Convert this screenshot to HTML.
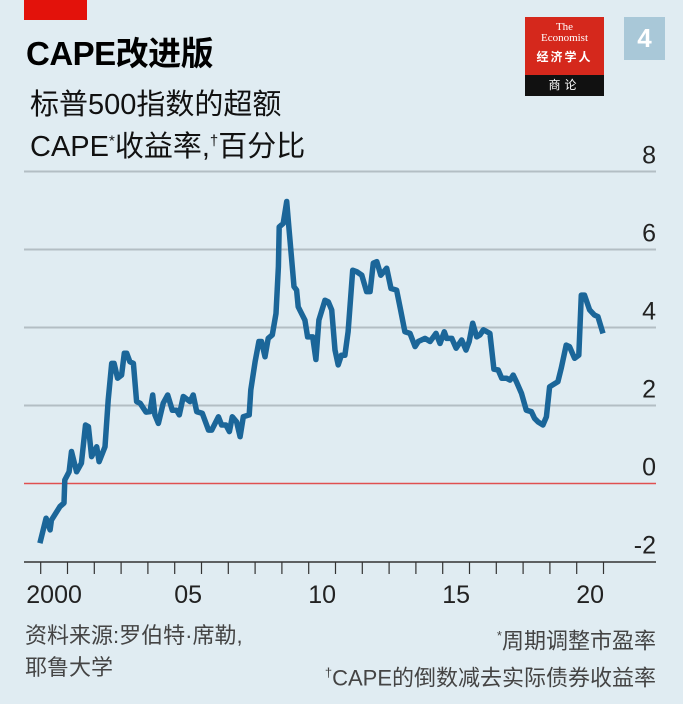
<!DOCTYPE html>
<html><head><meta charset="utf-8">
<style>
body{margin:0;width:683px;height:704px;background:#e0ecf2;overflow:hidden;font-family:"Liberation Sans","Noto Sans CJK SC",sans-serif;position:relative}
.a{position:absolute;white-space:nowrap}
</style></head><body>
<div class="a" style="left:24px;top:0;width:63px;height:20px;background:#e3120b"></div>
<div class="a" style="left:26px;top:27px;font-size:33px;font-weight:bold;color:#000;letter-spacing:-0.5px">CAPE改进版</div>
<div class="a" style="left:30px;top:81px;font-size:29px;color:#111">标普500指数的超额</div>
<div class="a" style="left:30px;top:123px;font-size:29px;color:#111">CAPE<sup style="font-size:15px">*</sup>收益率,<sup style="font-size:15px">†</sup>百分比</div>
<div class="a" style="left:525px;top:17px;width:79px;height:79px;background:#d5281c;text-align:center;color:#fff">
 <div style="font-family:'Liberation Serif',serif;font-size:11px;line-height:11px;margin-top:5px">The<br>Economist</div>
 <div style="font-size:12px;margin-top:4px;font-weight:bold;letter-spacing:2px">经济学人</div>
 <div style="position:absolute;left:0;top:58px;width:79px;height:21px;background:#111;font-size:12px;line-height:21px;letter-spacing:4px">商论</div>
</div>
<div class="a" style="left:624px;top:17px;width:41px;height:43px;background:#a9c8d8;color:#fff;font-weight:bold;font-size:26px;text-align:center;line-height:43px">4</div>
<svg class="a" style="left:0;top:0" width="683" height="704">
<g id="grid"></g><g id="axis"></g><path id="line" fill="none" stroke="#1b6699" stroke-width="5.5" stroke-linejoin="round"/>
</svg>
<div class="a" style="left:25px;top:620px;font-size:22px;color:#444;line-height:32px">资料来源:罗伯特·席勒,<br>耶鲁大学</div>
<div class="a" style="right:27px;top:620px;font-size:22px;color:#444;line-height:32px;text-align:right"><sup style="font-size:13px">*</sup>周期调整市盈率<br><sup style="font-size:13px">†</sup>CAPE的倒数减去实际债券收益率</div>
<script>
const yTicks=[-2,0,2,4,6,8];
const xLabels=["2000","05","10","15","20"];
const xLabelYears=[2000,2005,2010,2015,2020];
const dates=[1999.97,2000.2,2000.35,2000.4,2000.72,2000.87,2000.9,2001.06,2001.15,2001.34,2001.52,2001.67,2001.78,2001.9,2002.09,2002.18,2002.4,2002.52,2002.65,2002.74,2002.87,2003.02,2003.12,2003.21,2003.33,2003.46,2003.58,2003.71,2003.93,2004.08,2004.18,2004.26,2004.39,2004.57,2004.74,2004.91,2005.07,2005.17,2005.32,2005.57,2005.69,2005.82,2006.03,2006.26,2006.38,2006.63,2006.75,2006.91,2007.04,2007.15,2007.31,2007.44,2007.56,2007.78,2007.84,2008.0,2008.14,2008.24,2008.37,2008.49,2008.64,2008.78,2008.87,2008.9,2009.05,2009.18,2009.27,2009.4,2009.45,2009.55,2009.61,2009.86,2009.96,2010.15,2010.27,2010.38,2010.61,2010.73,2010.86,2010.98,2011.1,2011.22,2011.35,2011.47,2011.64,2011.79,2011.98,2012.16,2012.29,2012.41,2012.54,2012.69,2012.91,2013.07,2013.28,2013.43,2013.59,2013.78,2013.97,2014.09,2014.34,2014.53,2014.75,2014.9,2015.06,2015.15,2015.34,2015.5,2015.71,2015.87,2015.99,2016.12,2016.27,2016.39,2016.52,2016.76,2016.91,2017.07,2017.2,2017.38,2017.51,2017.63,2017.75,2017.94,2018.12,2018.31,2018.43,2018.56,2018.74,2018.87,2018.99,2019.11,2019.3,2019.42,2019.61,2019.73,2019.92,2020.08,2020.17,2020.29,2020.48,2020.66,2020.79,2020.98];
const values=[-1.53,-0.89,-1.19,-0.94,-0.59,-0.5,0.09,0.3,0.82,0.3,0.52,1.5,1.46,0.69,0.94,0.56,0.94,2.14,3.08,3.08,2.7,2.78,3.34,3.34,3.12,3.08,2.1,2.06,1.83,1.84,2.27,1.76,1.54,2.06,2.27,1.88,1.88,1.76,2.23,2.1,2.27,1.84,1.8,1.37,1.37,1.71,1.5,1.5,1.33,1.71,1.58,1.2,1.71,1.76,2.4,3.12,3.64,3.64,3.25,3.72,3.81,4.36,5.56,6.58,6.67,7.23,6.5,5.47,5.05,4.96,4.53,4.19,3.76,3.76,3.18,4.19,4.7,4.66,4.45,3.42,3.04,3.29,3.29,3.89,5.47,5.43,5.34,4.92,4.92,5.65,5.69,5.34,5.52,5.0,4.96,4.45,3.89,3.85,3.51,3.64,3.72,3.64,3.85,3.59,3.89,3.72,3.72,3.47,3.68,3.42,3.64,4.11,3.76,3.81,3.94,3.85,2.93,2.91,2.7,2.7,2.65,2.78,2.61,2.31,1.88,1.84,1.67,1.58,1.5,1.71,2.48,2.53,2.61,2.95,3.55,3.51,3.21,3.29,4.83,4.83,4.45,4.32,4.28,3.85];
const NS="http://www.w3.org/2000/svg";
function X(yr){return 40.7+(yr-2000)*26.8;}
function Y(v){return 483.5-v*39;}
const grid=document.getElementById('grid'),axis=document.getElementById('axis');
yTicks.forEach(t=>{
 if(t>-2){const l=document.createElementNS(NS,'line');
 
 
 l.setAttribute('x1',24);l.setAttribute('x2',656);l.setAttribute('y1',Y(t));l.setAttribute('y2',Y(t));
 l.setAttribute('stroke',t===0?'#e05050':'#b3bec4');l.setAttribute('stroke-width',t===0?1.5:2);grid.appendChild(l);}
 const tx=document.createElementNS(NS,'text');
 
 
 tx.setAttribute('x',656);tx.setAttribute('y',Y(t)-8);tx.setAttribute('text-anchor','end');
 tx.setAttribute('font-size','25');tx.setAttribute('fill','#222');tx.setAttribute('font-family','Liberation Sans, sans-serif');
 tx.textContent=t;grid.appendChild(tx);
});
const ax=document.createElementNS(NS,'line');


ax.setAttribute('x1',24);ax.setAttribute('x2',656);ax.setAttribute('y1',562);ax.setAttribute('y2',562);ax.setAttribute('stroke','#333');ax.setAttribute('stroke-width',1.5);axis.appendChild(ax);
for(let yr=2000;yr<=2021;yr++){
 const k=document.createElementNS(NS,'line');
 
 
 k.setAttribute('x1',X(yr));k.setAttribute('x2',X(yr));k.setAttribute('y1',562);k.setAttribute('y2',574);k.setAttribute('stroke','#333');k.setAttribute('stroke-width',1.2);axis.appendChild(k);
}
xLabels.forEach((s,i)=>{
 const tx=document.createElementNS(NS,'text');
 
 
 tx.setAttribute('x',X(xLabelYears[i]+0.5));tx.setAttribute('y',603);tx.setAttribute('text-anchor','middle');
 tx.setAttribute('font-size','25');tx.setAttribute('fill','#222');tx.setAttribute('font-family','Liberation Sans, sans-serif');
 tx.textContent=s;axis.appendChild(tx);
});
const p=document.getElementById('line');


p.setAttribute('d',dates.map((d,i)=>(i?'L':'M')+X(d).toFixed(1)+','+Y(values[i]).toFixed(1)).join(''));
</script>
</body></html>
